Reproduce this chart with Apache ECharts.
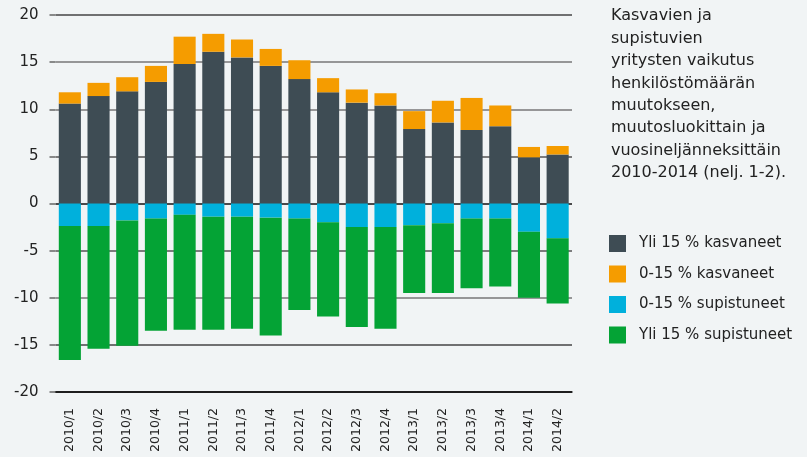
<!DOCTYPE html>
<html>
<head>
<meta charset="utf-8">
<script src="https://cdn.jsdelivr.net/npm/echarts@6/dist/echarts.min.js"></script>
<style>
  html, body, #main {
    width: 100%;
    height: 100%;
    margin: 0;
    background: #f1f4f5;
  }
</style>
</head>
<body>
<div id="main"></div>
<script>
  var categories = ['2010/1', '2010/2', '2010/3', '2010/4', '2011/1', '2011/2', '2011/3', '2011/4',
    '2012/1', '2012/2', '2012/3', '2012/4', '2013/1', '2013/2', '2013/3', '2013/4', '2014/1', '2014/2'];

  // kasvaneet (positive side)
  var yli15Kasvaneet = [10.6, 11.4, 11.9, 12.9, 14.8, 16.1, 15.5, 14.6, 13.2, 11.8, 10.7, 10.4, 7.9, 8.6, 7.8, 8.2, 4.9, 5.2];
  var o15Kasvaneet = [1.2, 1.4, 1.5, 1.7, 2.9, 1.9, 1.9, 1.8, 2.0, 1.5, 1.4, 1.3, 1.9, 2.3, 3.4, 2.2, 1.1, 0.9];
  // supistuneet (negative side)
  var o15Supistuneet = [-2.4, -2.4, -1.8, -1.6, -1.2, -1.4, -1.4, -1.5, -1.6, -2.0, -2.5, -2.5, -2.3, -2.1, -1.6, -1.6, -3.0, -3.7];
  var yli15Supistuneet = [-14.2, -13.0, -13.3, -11.9, -12.2, -12.0, -11.9, -12.5, -9.7, -10.0, -10.6, -10.8, -7.2, -7.4, -7.4, -7.2, -7.0, -6.9];

  var seriesNames = ['Yli 15 % kasvaneet', '0-15 % kasvaneet', '0-15 % supistuneet', 'Yli 15 % supistuneet'];
  var titleLines = ['Kasvavien ja', 'supistuvien', 'yritysten vaikutus', 'henkilöstömäärän',
    'muutokseen,', 'muutosluokittain ja', 'vuosineljänneksittäin', '2010-2014 (nelj. 1-2).'];

  var font = 'DejaVu Sans';
  var chart = echarts.init(document.getElementById('main'));

  function bar(name, data, color) {
    return {
      name: name,
      type: 'bar',
      stack: 'total',
      barCategoryGap: '23%',
      itemStyle: { color: color },
      data: data
    };
  }

  var option = {
    backgroundColor: '#f1f4f5',
    animation: false,
    textStyle: { fontFamily: font },
    title: {
      text: titleLines.join('\n'),
      left: 606,
      top: 0,
      textStyle: { fontSize: 16, fontWeight: 'normal', color: '#222', lineHeight: 22.4, fontFamily: font }
    },
    legend: {
      orient: 'vertical',
      left: 604,
      top: 230,
      itemWidth: 17,
      itemHeight: 17,
      itemGap: 13.5,
      icon: 'rect',
      textStyle: { fontSize: 15, color: '#222', padding: [0, 0, 0, 8], fontFamily: font },
      data: seriesNames
    },
    grid: { left: 55.5, right: 235, top: 15, bottom: 65 },
    xAxis: {
      type: 'category',
      data: categories,
      axisLine: { onZero: false, lineStyle: { color: '#111', width: 1.5 } },
      axisTick: { show: false },
      axisLabel: { rotate: 90, interval: 0, margin: 16, fontSize: 12.5, color: '#222' }
    },
    yAxis: {
      type: 'value',
      min: -20,
      max: 20,
      interval: 5,
      axisLine: { show: false },
      axisTick: { show: true, length: 6, lineStyle: { color: '#666', width: 1.5 } },
      axisLabel: { fontSize: 15, color: '#222', margin: 17 },
      splitLine: {
        lineStyle: {
          width: 1.5,
          color: ['#111', '#444', '#777', '#555', '#111', '#555', '#777', '#777', '#444']
        }
      }
    },
    series: [
      bar(seriesNames[0], yli15Kasvaneet, '#3e4c54'),
      bar(seriesNames[1], o15Kasvaneet, '#f59c00'),
      bar(seriesNames[2], o15Supistuneet, '#00b0dc'),
      bar(seriesNames[3], yli15Supistuneet, '#04a335')
    ]
  };
  chart.setOption(option);
</script>
</body>
</html>
